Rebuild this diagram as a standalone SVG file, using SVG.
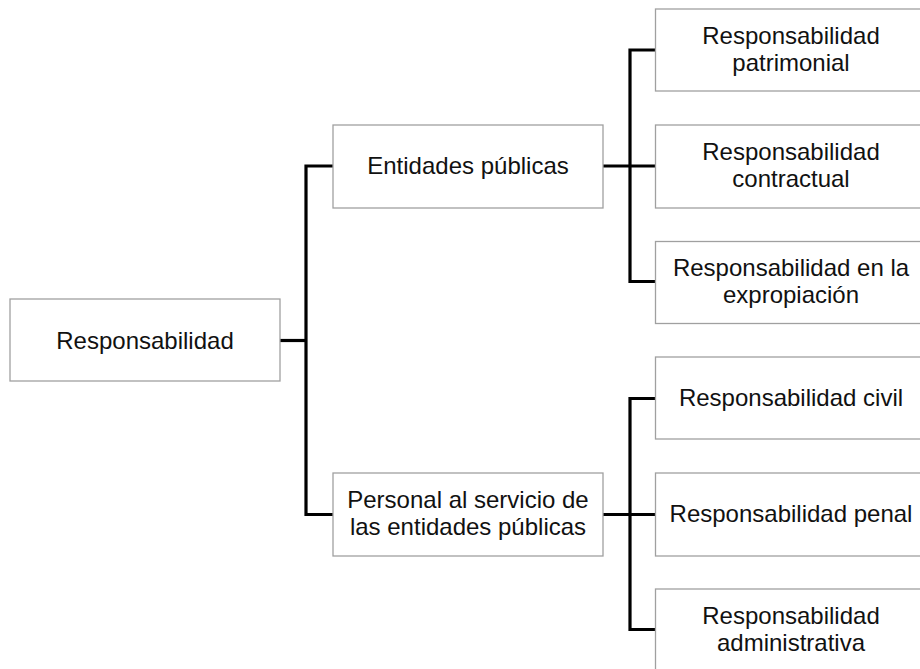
<svg xmlns="http://www.w3.org/2000/svg" width="920" height="669" viewBox="0 0 920 669">
  <style>
    .box { fill: #ffffff; stroke: #a0a0a0; stroke-width: 1.3; }
    .lbl { font-family: "Liberation Sans", Arial, sans-serif; font-size: 24px; fill: #111111; text-anchor: middle; }
    .wire { fill: none; stroke: #000000; stroke-width: 3.2; stroke-linejoin: miter; stroke-linecap: butt; }
  </style>
  <rect x="0" y="0" width="920" height="669" fill="#ffffff"/>

  <!-- connectors -->
  <g id="connectors">
    <!-- root to first level -->
    <path class="wire" d="M280 340.5 H306"/>
    <path class="wire" d="M333 166 H306 V514.5 H333"/>
    <!-- Entidades públicas to its children -->
    <path class="wire" d="M603 166 H656"/>
    <path class="wire" d="M656 50 H630 V281.5 H656"/>
    <!-- Personal to its children -->
    <path class="wire" d="M603 514.5 H656"/>
    <path class="wire" d="M656 398.5 H630 V629.5 H656"/>
  </g>

  <g id="root">
    <rect class="box" x="10" y="299" width="270" height="82"/>
    <text class="lbl" x="145" y="348.5">Responsabilidad</text>
  </g>

  <g id="entidades">
    <rect class="box" x="333" y="125" width="270" height="83"/>
    <text class="lbl" x="468" y="174">Entidades públicas</text>
  </g>

  <g id="personal">
    <rect class="box" x="333" y="473" width="270" height="83"/>
    <text class="lbl" x="468" y="508">Personal al servicio de</text>
    <text class="lbl" x="468" y="535">las entidades públicas</text>
  </g>

  <g id="patrimonial">
    <rect class="box" x="655.5" y="9" width="270" height="82"/>
    <text class="lbl" x="791" y="44">Responsabilidad</text>
    <text class="lbl" x="791" y="71">patrimonial</text>
  </g>

  <g id="contractual">
    <rect class="box" x="655.5" y="125" width="270" height="83"/>
    <text class="lbl" x="791" y="160">Responsabilidad</text>
    <text class="lbl" x="791" y="187">contractual</text>
  </g>

  <g id="expropiacion">
    <rect class="box" x="655.5" y="241.5" width="270" height="82"/>
    <text class="lbl" x="791" y="276">Responsabilidad en la</text>
    <text class="lbl" x="791" y="303">expropiación</text>
  </g>

  <g id="civil">
    <rect class="box" x="655.5" y="357" width="270" height="82"/>
    <text class="lbl" x="791" y="405.5">Responsabilidad civil</text>
  </g>

  <g id="penal">
    <rect class="box" x="655.5" y="473" width="270" height="83"/>
    <text class="lbl" x="791" y="521.5">Responsabilidad penal</text>
  </g>

  <g id="administrativa">
    <rect class="box" x="655.5" y="589" width="270" height="83"/>
    <text class="lbl" x="791" y="624">Responsabilidad</text>
    <text class="lbl" x="791" y="651">administrativa</text>
  </g>
</svg>
